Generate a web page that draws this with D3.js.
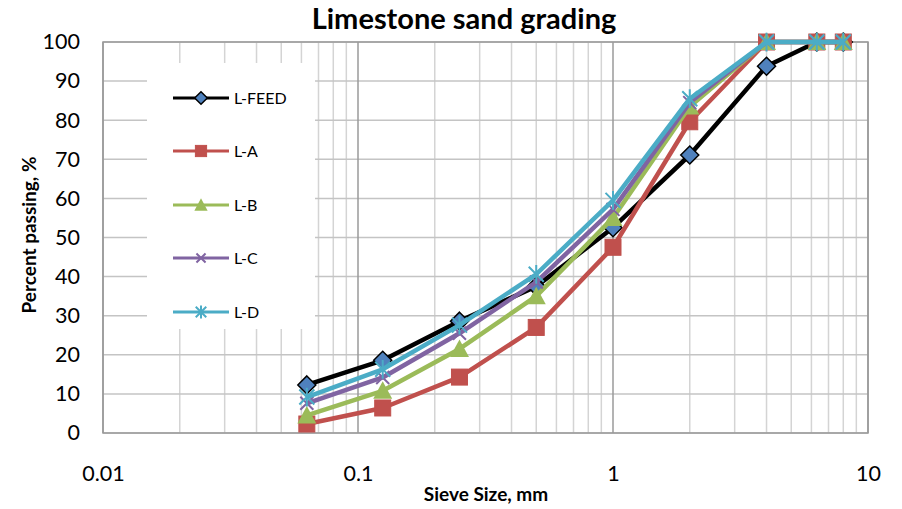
<!DOCTYPE html>
<html><head><meta charset="utf-8">
<script src="https://cdn.jsdelivr.net/npm/d3@7"></script>
<style>
body{margin:0;background:#fff;}
svg{font-family:Lato,"Open Sans",sans-serif;}
</style></head>
<body><svg id="c" width="902" height="509"></svg>
<script>
const sieveSizes = [0.063, 0.125, 0.25, 0.5, 1, 2, 4, 6.3, 8];
const seriesNames = ["L-FEED", "L-A", "L-B", "L-C", "L-D"];
const feedValues = [12.3, 18.6, 28.6, 37.5, 52.5, 71.1, 93.8, 100, 100];
const aValues    = [2.3, 6.4, 14.3, 27.0, 47.5, 79.6, 100, 100, 100];
const bValues    = [4.5, 10.8, 21.5, 35.0, 55.0, 83.5, 100, 100, 100];
const cValues    = [7.6, 14.2, 25.5, 38.6, 57.2, 84.5, 100, 100, 100];
const dValues    = [9.2, 16.3, 27.6, 40.6, 59.5, 85.5, 100, 100, 100];
const yTicks = [0,10,20,30,40,50,60,70,80,90,100];
const xTicks = [0.01, 0.1, 1, 10];

const allValues = [feedValues, aValues, bValues, cValues, dValues];
const colors = ["#000000", "#c0504d", "#9bbb59", "#8064a2", "#4bacc6"];
const markers = ["diamond", "square", "triangle", "x", "star"];

const svg = d3.select("#c");
const L = 103, R = 868, T = 42, B = 433;
const x = d3.scaleLog().domain([0.01, 10]).range([L, R]);
const y = d3.scaleLinear().domain([0, 100]).range([B, T]);

// minor vertical gridlines
const minor = [];
[0.01, 0.1, 1].forEach(d => { for (let k = 2; k <= 9; k++) minor.push(d * k); });
svg.append("g").selectAll("line").data(minor).join("line")
  .attr("x1", d => x(d)).attr("x2", d => x(d)).attr("y1", T).attr("y2", B)
  .attr("stroke", "#d4d4d4").attr("stroke-width", 1.5);
// horizontal gridlines
svg.append("g").selectAll("line").data(yTicks).join("line")
  .attr("x1", L).attr("x2", R).attr("y1", d => y(d)).attr("y2", d => y(d))
  .attr("stroke", "#c4c4c4").attr("stroke-width", 1.5);
// major vertical gridlines
svg.append("g").selectAll("line").data(xTicks).join("line")
  .attr("x1", d => x(d)).attr("x2", d => x(d)).attr("y1", T).attr("y2", B)
  .attr("stroke", "#9a9a9a").attr("stroke-width", 1.5);
// plot border
svg.append("rect").attr("x", L).attr("y", T).attr("width", R - L).attr("height", B - T)
  .attr("fill", "none").attr("stroke", "#9a9a9a").attr("stroke-width", 1.5);

// legend background
svg.append("rect").attr("x", 147).attr("y", 63).attr("width", 168).attr("height", 266).attr("fill", "#fff");

// axes labels
const ya = svg.append("g").attr("transform", `translate(${L},0)`)
  .call(d3.axisLeft(y).tickValues(yTicks).tickSize(0).tickPadding(23).tickFormat(d3.format("d")));
ya.select(".domain").remove();
ya.selectAll("text").attr("font-size", 21.5).attr("fill", "#000").attr("font-family", "Lato");
const xa = svg.append("g").attr("transform", `translate(0,${B})`)
  .call(d3.axisBottom(x).tickValues(xTicks).tickSize(0).tickPadding(33).tickFormat(d => String(d)));
xa.select(".domain").remove();
xa.selectAll("text").attr("font-size", 21.5).attr("fill", "#000").attr("font-family", "Lato");

// titles
svg.append("text").attr("x", 464).attr("y", 29).attr("text-anchor", "middle")
  .attr("font-size", 29).attr("font-weight", "bold").text("Limestone sand grading");
svg.append("text").attr("x", 486).attr("y", 501).attr("text-anchor", "middle")
  .attr("font-size", 19).attr("font-weight", "bold").text("Sieve Size, mm");
svg.append("text").attr("transform", "translate(36,235) rotate(-90)").attr("text-anchor", "middle")
  .attr("font-size", 19).attr("font-weight", "bold").text("Percent passing, %");

function drawMarker(g, type, color, cx, cy, scale) {
  const s = scale || 1;
  if (type === "diamond") {
    const r = 9 * s;
    g.append("path").attr("d", `M${cx},${cy - r}L${cx + r},${cy}L${cx},${cy + r}L${cx - r},${cy}Z`)
      .attr("fill", "#4f81bd").attr("stroke", "#000").attr("stroke-width", 1.5);
  } else if (type === "square") {
    const r = 8 * s;
    g.append("rect").attr("x", cx - r).attr("y", cy - r).attr("width", 2 * r).attr("height", 2 * r)
      .attr("fill", color).attr("stroke", color).attr("stroke-width", 1);
  } else if (type === "triangle") {
    const r = 9.5 * s;
    g.append("path").attr("d", `M${cx},${cy - r}L${cx + r},${cy + r * 0.85}L${cx - r},${cy + r * 0.85}Z`)
      .attr("fill", color);
  } else if (type === "x") {
    const r = 6.5 * s;
    g.append("path").attr("d", `M${cx - r},${cy - r}L${cx + r},${cy + r}M${cx - r},${cy + r}L${cx + r},${cy - r}`)
      .attr("stroke", color).attr("stroke-width", 2);
  } else if (type === "star") {
    const r = 7.5 * s;
    g.append("path").attr("d", `M${cx - r},${cy - r}L${cx + r},${cy + r}M${cx - r},${cy + r}L${cx + r},${cy - r}M${cx},${cy - r * 1.25}L${cx},${cy + r * 1.25}`)
      .attr("stroke", color).attr("stroke-width", 2);
  }
}

const line = d3.line().x(d => x(d[0])).y(d => y(d[1]));
allValues.forEach((vals, i) => {
  const g = svg.append("g");
  const pts = sieveSizes.map((s, j) => [s, vals[j]]);
  g.append("path").datum(pts).attr("d", line).attr("fill", "none")
    .attr("stroke", colors[i]).attr("stroke-width", 4.5).attr("stroke-linejoin", "round");
  pts.forEach(p => drawMarker(g, markers[i], colors[i], x(p[0]), y(p[1])));
});

// legend
const legY = [98, 151, 205, 258, 312];
seriesNames.forEach((n, i) => {
  const g = svg.append("g");
  g.append("line").attr("x1", 173).attr("x2", 229).attr("y1", legY[i]).attr("y2", legY[i])
    .attr("stroke", colors[i]).attr("stroke-width", 3);
  drawMarker(g, markers[i], colors[i], 201, legY[i], 0.7);
  g.append("text").attr("x", 234).attr("y", legY[i] + 5.5).attr("font-size", 16).text(n);
});
</script></body></html>
